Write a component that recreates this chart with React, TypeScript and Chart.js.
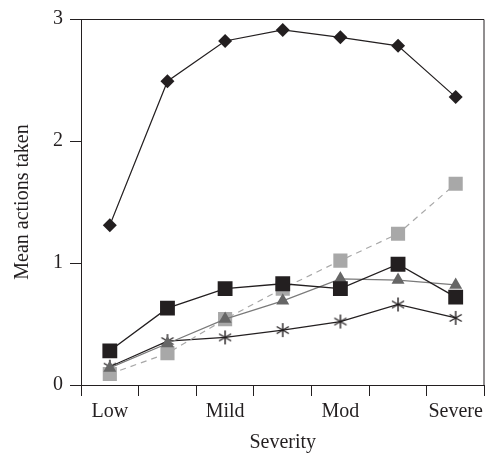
import React, { useEffect, useRef } from "react";
import { Chart, registerables } from "chart.js";

Chart.register(...registerables);

const categories = ["Low", "", "Mild", "", "Mod", "", "Severe"];
const diamondSeries = [1.31, 2.49, 2.82, 2.91, 2.85, 2.78, 2.36];
const blackSquareSeries = [0.28, 0.63, 0.79, 0.83, 0.79, 0.99, 0.72];
const triangleSeries = [0.14, 0.34, 0.54, 0.69, 0.87, 0.86, 0.82];
const greySquareSeries = [0.09, 0.26, 0.54, 0.79, 1.02, 1.24, 1.65];
const asteriskSeries = [0.15, 0.36, 0.39, 0.45, 0.52, 0.66, 0.55];
const yTicks = [0, 1, 2, 3];

const INK = "#231f20";
const FONT = "'Liberation Serif', 'Times New Roman', serif";
const FS = 20;

function makeAsterisk(): HTMLCanvasElement {
  const c = document.createElement("canvas");
  const s = 16;
  c.width = s;
  c.height = s;
  const ctx = c.getContext("2d")!;
  ctx.strokeStyle = INK;
  ctx.lineWidth = 1.4;
  const cx = s / 2, cy = s / 2, r = 7;
  for (let i = 0; i < 3; i++) {
    const a = Math.PI / 2 + (i * Math.PI) / 3;
    ctx.beginPath();
    ctx.moveTo(cx - r * Math.cos(a), cy - r * Math.sin(a));
    ctx.lineTo(cx + r * Math.cos(a), cy + r * Math.sin(a));
    ctx.stroke();
  }
  return c;
}

const boxPlugin = {
  id: "box",
  afterDraw(chart: any) {
    const { ctx, chartArea } = chart;
    ctx.save();
    ctx.strokeStyle = INK;
    ctx.lineWidth = 1;
    ctx.beginPath();
    ctx.moveTo(chartArea.left, chartArea.top + 0.5);
    ctx.lineTo(chartArea.right - 0.5, chartArea.top + 0.5);
    ctx.lineTo(chartArea.right - 0.5, chartArea.bottom);
    ctx.stroke();
    ctx.restore();
  },
};

export default function App() {
  const ref = useRef<HTMLCanvasElement>(null);
  useEffect(() => {
    const asterisk = makeAsterisk();
    const chart = new Chart(ref.current!, {
      type: "line",
      data: {
        labels: categories,
        datasets: [
          {
            data: blackSquareSeries,
            borderColor: INK,
            backgroundColor: INK,
            borderWidth: 1.3,
            pointStyle: "rect",
            pointRadius: 10.5,
            pointBorderWidth: 0,
          },
          {
            data: triangleSeries,
            borderColor: "#7a7a7a",
            backgroundColor: "#666666",
            borderWidth: 1.2,
            pointStyle: "triangle",
            pointRadius: 7.5,
            pointBorderWidth: 0,
          },
          {
            data: greySquareSeries,
            borderColor: "#a8a8a8",
            backgroundColor: "#a8a8a8",
            borderWidth: 1.2,
            borderDash: [6, 5],
            pointStyle: "rect",
            pointRadius: 10,
            pointBorderWidth: 0,
          },
          {
            data: asteriskSeries,
            borderColor: INK,
            backgroundColor: INK,
            borderWidth: 1.2,
            pointStyle: asterisk as any,
            pointRadius: 8,
          },
          {
            data: diamondSeries,
            borderColor: INK,
            backgroundColor: INK,
            borderWidth: 1.2,
            pointStyle: "rectRot",
            pointRadius: 7,
            pointBorderWidth: 0,
          },
        ],
      },
      options: {
        responsive: false,
        animation: false,
        layout: { padding: { top: 15, right: 7, left: 0, bottom: 0 } },
        plugins: { legend: { display: false }, tooltip: { enabled: false } },
        elements: { line: { tension: 0 } },
        scales: {
          x: {
            type: "category",
            offset: true,
            afterFit: (s: any) => {
              s.height = 71;
            },
            grid: {
              offset: true,
              drawOnChartArea: false,
              drawTicks: true,
              tickLength: 11,
              color: INK,
            },
            border: { display: true, color: INK, width: 1 },
            ticks: {
              autoSkip: false,
              maxRotation: 0,
              color: INK,
              padding: 4,
              font: { family: FONT, size: FS },
            },
            title: {
              display: true,
              text: "Severity",
              color: INK,
              font: { family: FONT, size: FS },
              padding: { top: 0, bottom: 1 },
            },
          },
          y: {
            min: 0,
            max: 3,
            afterFit: (s: any) => {
              s.width = 81;
            },
            afterBuildTicks: (s: any) => {
              s.ticks = yTicks.map((v) => ({ value: v }));
            },
            grid: {
              drawOnChartArea: false,
              drawTicks: true,
              tickLength: 11,
              color: INK,
            },
            border: { display: true, color: INK, width: 1 },
            ticks: {
              color: INK,
              padding: 7,
              font: { family: FONT, size: FS },
            },
            title: {
              display: true,
              text: "Mean actions taken",
              color: INK,
              font: { family: FONT, size: FS },
              padding: { top: 11, bottom: 0 },
            },
          },
        },
      },
      plugins: [boxPlugin],
    });
    return () => chart.destroy();
  }, []);
  return (
    <canvas
      ref={ref}
      width={495}
      height={456}
      style={{ position: "absolute", left: 0, top: 0, width: 495, height: 456 }}
    />
  );
}
